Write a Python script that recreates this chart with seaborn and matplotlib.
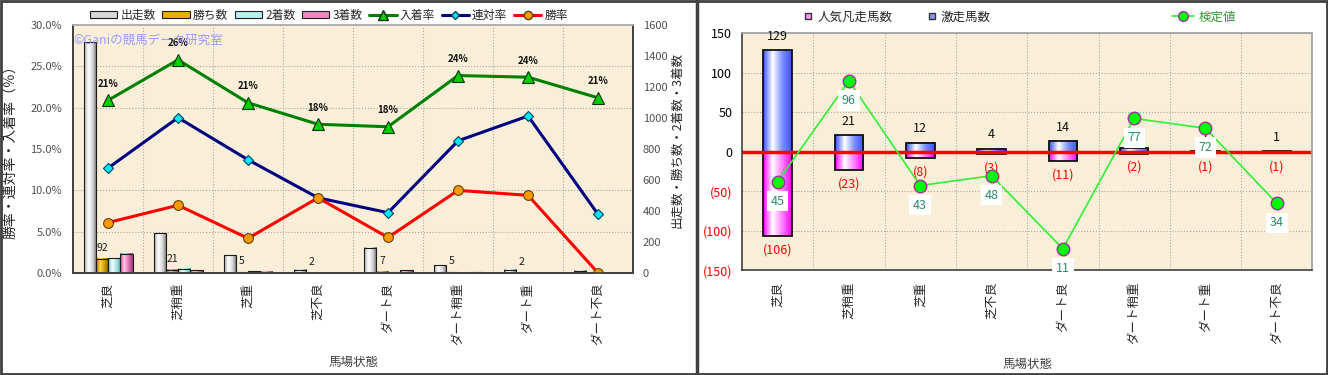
import numpy as np
import pandas as pd
import matplotlib
matplotlib.use("Agg")
import matplotlib.pyplot as plt
import seaborn as sns
from matplotlib.colors import LinearSegmentedColormap
from matplotlib.patches import Patch, Rectangle
from matplotlib.lines import Line2D
from matplotlib.ticker import PercentFormatter, FixedLocator, LinearLocator, FuncFormatter, MultipleLocator

# =====================================================
# Data
# =====================================================

baba = ["芝良", "芝稍重", "芝重", "芝不良", "ダート良", "ダート稍重", "ダート重", "ダート不良"]

# left chart: counts (right axis)
shusso = [1490, 258, 115, 22, 163, 50, 21, 14]
win_cnt = [92, 21, 5, 2, 7, 5, 2, 0]
second_cnt = [96, 27, 11, 0, 5, 3, 2, 1]
third_cnt = [123, 18, 8, 2, 17, 4, 1, 2]
count_kinds = ["出走数", "勝ち数", "2着数", "3着数"]

# left chart: rates (left axis)
nyuchaku = [0.209, 0.258, 0.206, 0.180, 0.177, 0.239, 0.237, 0.212]
rentai = [0.127, 0.188, 0.137, 0.091, 0.073, 0.160, 0.190, 0.071]
shoritsu = [0.061, 0.082, 0.042, 0.091, 0.043, 0.100, 0.094, 0.0]

# right chart
gekisou = [129, 21, 12, 4, 14, 5, 1, 1]
bonsou = [-106, -23, -8, -3, -11, -2, -1, -1]
kentei = [45, 96, 43, 48, 11, 77, 72, 34]

# =====================================================
# Style
# =====================================================

sns.set_theme(style="white")
plt.rcParams["font.family"] = ["Noto Sans CJK JP", "DejaVu Sans"]

BG = "#f9efd8"
GRID = dict(color="#a8a8a8", linestyle=":", linewidth=0.8)


def cylinder(ax, container, stops):
    # horizontal gradient inside each bar, like the 3D look of the original
    cmap = LinearSegmentedColormap.from_list("cyl", stops)
    grad = np.linspace(0, 1, 64).reshape(1, -1)
    for bar in container:
        x0, w = bar.get_x(), bar.get_width()
        y0, h = bar.get_y(), bar.get_height()
        if h != 0:
            ax.imshow(grad, cmap=cmap, aspect="auto", interpolation="bilinear",
                      extent=[x0, x0 + w, min(y0, y0 + h), max(y0, y0 + h)],
                      zorder=0.9)
        bar.set_facecolor("none")
        bar.set_zorder(1)


fig = plt.figure(figsize=(13.28, 3.75), dpi=100)

idx = np.arange(len(baba))

# =====================================================
# Left chart
# =====================================================

ax = fig.add_axes([0.055, 0.272, 0.4217, 0.661])
ax.set_facecolor(BG)

count_df = pd.DataFrame({
    "馬場状態": baba * 4,
    "頭数": shusso + win_cnt + second_cnt + third_cnt,
    "種別": [k for k in count_kinds for _ in baba],
})

bar_colors = ["#d0d0d0", "#e8b000", "#b8f0f0", "#f088c0"]

sns.barplot(data=count_df, x="馬場状態", y="頭数", hue="種別",
            hue_order=count_kinds, palette=bar_colors, width=0.7,
            errorbar=None, legend=False, edgecolor="#1a1a1a", linewidth=0.8,
            ax=ax)

stops_left = [
    ["#a8a8a8", "#ffffff", "#d8d8d8", "#6e6e6e"],
    ["#b07800", "#ffd84a", "#d09a00", "#8a5c00"],
    ["#7cc8c8", "#f0ffff", "#a8e4e4", "#5aa8a8"],
    ["#c85098", "#ffc8e4", "#e070b0", "#a03878"],
]
for cont, st in zip(ax.containers, stops_left):
    cylinder(ax, cont, st)

# rates on a twin axis (drawn above the bars)
ax_l = ax.twinx()

ax.set_xlim(-0.5, len(baba) - 0.5)
ax.set_ylim(0, 1600)
ax.yaxis.tick_right()
ax.yaxis.set_label_position("right")
ax.yaxis.set_major_locator(MultipleLocator(200))
ax.set_axisbelow(True)
ax.xaxis.set_minor_locator(FixedLocator(idx[:-1] + 0.5))
ax.yaxis.set_minor_locator(LinearLocator(7))
ax.grid(which="minor", **GRID)
ax.grid(which="major", visible=False)
ax.tick_params(axis="both", which="both", length=0)
ax.tick_params(axis="y", labelsize=8, labelcolor="#505050", pad=7)
ax.set_xticks(idx)
ax.set_xticklabels(baba, rotation=90, fontsize=9)
ax.tick_params(axis="x", pad=7)
ax.set_xlabel("馬場状態", fontsize=9, color="#404040", labelpad=8)
ax.set_ylabel("出走数・勝ち数・2着数・3着数", fontsize=9)
ax.yaxis.set_label_coords(1.066, 0.535)

# labels of the win counts
for i, v in enumerate(win_cnt):
    if v > 0:
        x = ax.containers[1][i].get_x() + ax.containers[1][i].get_width() / 2
        ax.annotate(f"{v}", (x, v), xytext=(0, 8), textcoords="offset points",
                    ha="center", va="center", fontsize=7.5, color="#202020")

ax_l.yaxis.tick_left()
ax_l.yaxis.set_label_position("left")

sns.lineplot(x=idx, y=nyuchaku, ax=ax_l, color="#008000", linewidth=2.2,
             marker="^", markersize=9, markerfacecolor="#00d000",
             markeredgecolor="#103010", markeredgewidth=0.8)
sns.lineplot(x=idx, y=rentai, ax=ax_l, color="#000080", linewidth=2.2,
             marker="D", markersize=5.5, markerfacecolor="#00e8ff",
             markeredgecolor="#004060", markeredgewidth=0.8)
sns.lineplot(x=idx, y=shoritsu, ax=ax_l, color="#ff0000", linewidth=2.2,
             marker="o", markersize=7, markerfacecolor="#ff9900",
             markeredgecolor="#604000", markeredgewidth=0.8)

for i, v in enumerate(nyuchaku):
    ax_l.annotate(f"{round(v * 100)}%", (i, v), xytext=(0, 12),
                  textcoords="offset points", ha="center", va="center",
                  fontsize=7, fontweight="bold", color="#101010")

ax_l.set_ylim(0, 0.30)
ax_l.yaxis.set_major_locator(MultipleLocator(0.05))
ax_l.yaxis.set_major_formatter(PercentFormatter(1.0, decimals=1))
ax_l.tick_params(axis="y", length=0, labelsize=8, labelcolor="#505050", pad=8)
ax_l.set_ylabel("勝率・連対率・入着率（％）", fontsize=10)
ax_l.yaxis.set_label_coords(-0.1, 0.5)
ax_l.set_xlim(-0.5, len(baba) - 0.5)

ax_l.text(0.0, 0.94, "©Ganiの競馬データ研究室", transform=ax_l.transAxes,
          ha="left", va="center", fontsize=9, color="#8a8cff", alpha=0.85)

for sp in ["left", "bottom", "right"]:
    ax.spines[sp].set_color("#404040")
    ax_l.spines[sp].set_color("#404040")
ax.spines["top"].set_color("#b0b0b0")
ax_l.spines["top"].set_color("#b0b0b0")

left_handles = [
    Patch(facecolor=c, edgecolor="#202020", linewidth=0.8) for c in
    ["#d8d8d8", "#e8b000", "#b8f0f0", "#f088c0"]
] + [
    Line2D([], [], color="#008000", lw=2.2, marker="^", markersize=7,
           markerfacecolor="#00d000", markeredgecolor="#103010"),
    Line2D([], [], color="#000080", lw=2.2, marker="D", markersize=4.5,
           markerfacecolor="#00e8ff", markeredgecolor="#004060"),
    Line2D([], [], color="#ff0000", lw=2.2, marker="o", markersize=6,
           markerfacecolor="#ff9900", markeredgecolor="#604000"),
]
left_labels = count_kinds + ["入着率", "連対率", "勝率"]
ax_l.legend(left_handles, left_labels, ncol=7, loc="center",
            bbox_to_anchor=(0.457, 1.04), frameon=False, fontsize=8.5,
            handlelength=2.3, handleheight=0.55, handletextpad=0.25,
            columnspacing=0.6, borderaxespad=0)

# =====================================================
# Right chart
# =====================================================

ax2 = fig.add_axes([0.5587, 0.2787, 0.4296, 0.632])
ax2.set_facecolor(BG)

sns.barplot(x=baba, y=gekisou, width=0.4, color="#6070ff", errorbar=None,
            edgecolor="#101010", linewidth=1.3, ax=ax2)
sns.barplot(x=baba, y=bonsou, width=0.4, color="#ff40ff", errorbar=None,
            edgecolor="#101010", linewidth=1.3, ax=ax2)

cylinder(ax2, ax2.containers[0], ["#3a52ff", "#ffffff", "#8090ff", "#3a52ff"])
cylinder(ax2, ax2.containers[1], ["#ff00ff", "#ffffff", "#ff80ff", "#ff00ff"])

ax2.axhline(0, color="#ff0000", linewidth=2.5, zorder=2)

for i, v in enumerate(gekisou):
    ax2.annotate(f"{v}", (i, v), xytext=(0, 10), textcoords="offset points",
                 ha="center", va="center", fontsize=9, color="#101010", zorder=3)
for i, v in enumerate(bonsou):
    ax2.annotate(f"({-v})", (i, v), xytext=(0, -10), textcoords="offset points",
                 ha="center", va="center", fontsize=9, color="#ff0000", zorder=3)

# test value line on a hidden twin scale
ax3 = ax2.twinx()

ax2.set_xlim(-0.5, len(baba) - 0.5)
ax2.set_ylim(-150, 150)
ax2.yaxis.set_major_locator(MultipleLocator(50))
ax2.yaxis.set_major_formatter(
    FuncFormatter(lambda v, p: f"{v:.0f}" if v >= 0 else f"({-v:.0f})"))
ax2.set_axisbelow(True)
ax2.xaxis.set_minor_locator(FixedLocator(idx[:-1] + 0.5))
ax2.grid(axis="y", which="major", **GRID)
ax2.grid(axis="x", which="minor", **GRID)
ax2.grid(axis="x", which="major", visible=False)
ax2.tick_params(axis="both", which="both", length=0)
ax2.tick_params(axis="y", labelsize=9, pad=7)
ax2.set_xticks(idx)
ax2.set_xticklabels(baba, rotation=90, fontsize=9)
ax2.tick_params(axis="x", pad=8)
for lab, val in zip(ax2.get_yticklabels(), ax2.get_yticks()):
    lab.set_color("#ff0000" if val < 0 else "#000000")
ax2.set_xlabel("馬場状態", fontsize=9, color="#404040", labelpad=10)
ax2.set_ylabel("")
for sp in ["left", "bottom"]:
    ax2.spines[sp].set_color("#404040")
    ax2.spines[sp].set_linewidth(1.2)
for sp in ["top", "right"]:
    ax2.spines[sp].set_color("#a0a0a0")

sns.lineplot(x=idx, y=kentei, ax=ax3, color="#33ee33", linewidth=1.2,
             marker="o", markersize=9, markerfacecolor="#00ff00",
             markeredgecolor="#993399", markeredgewidth=1.0)
ax3.set_ylim(0, 120)
ax3.set_xlim(-0.5, len(baba) - 0.5)
ax3.axis("off")
for i, v in enumerate(kentei):
    ax3.annotate(f"{v}", (i, v), xytext=(0, -14), textcoords="offset points",
                 ha="center", va="center", fontsize=9, color="#2e8b6e",
                 bbox=dict(boxstyle="square,pad=0.3", facecolor="white",
                           edgecolor="none"), zorder=5)

right_handles = [
    Line2D([], [], linestyle="none", marker="s", markersize=5,
           markerfacecolor="#ff99ff", markeredgecolor="#303030"),
    Line2D([], [], linestyle="none", marker="s", markersize=5,
           markerfacecolor="#8899ff", markeredgecolor="#303030"),
]
ax2.legend(right_handles, ["人気凡走馬数", "激走馬数"], ncol=2, loc="center",
           bbox_to_anchor=(0.272, 1.07), frameon=False, fontsize=9,
           handlelength=0.8, handletextpad=0.3, columnspacing=2.8,
           borderaxespad=0)

leg3 = ax3.legend([Line2D([], [], color="#33ee33", lw=1.2, marker="o",
                          markersize=7, markerfacecolor="#00ff00",
                          markeredgecolor="#993399")],
                  ["検定値"], loc="center", bbox_to_anchor=(0.81, 1.07),
                  frameon=False, fontsize=9, handlelength=1.8,
                  handletextpad=0.4, borderaxespad=0)
leg3.get_texts()[0].set_color("#339933")

# =====================================================
# Panel borders
# =====================================================

fig.add_artist(Rectangle((0.001, 0.003), 0.998, 0.994, transform=fig.transFigure,
                         fill=False, edgecolor="#404040", linewidth=2))
fig.add_artist(Line2D([697 / 1328, 697 / 1328], [0, 1], transform=fig.transFigure,
                      color="#404040", linewidth=2.5))

fig.savefig("out.png", dpi=100, facecolor="white")
